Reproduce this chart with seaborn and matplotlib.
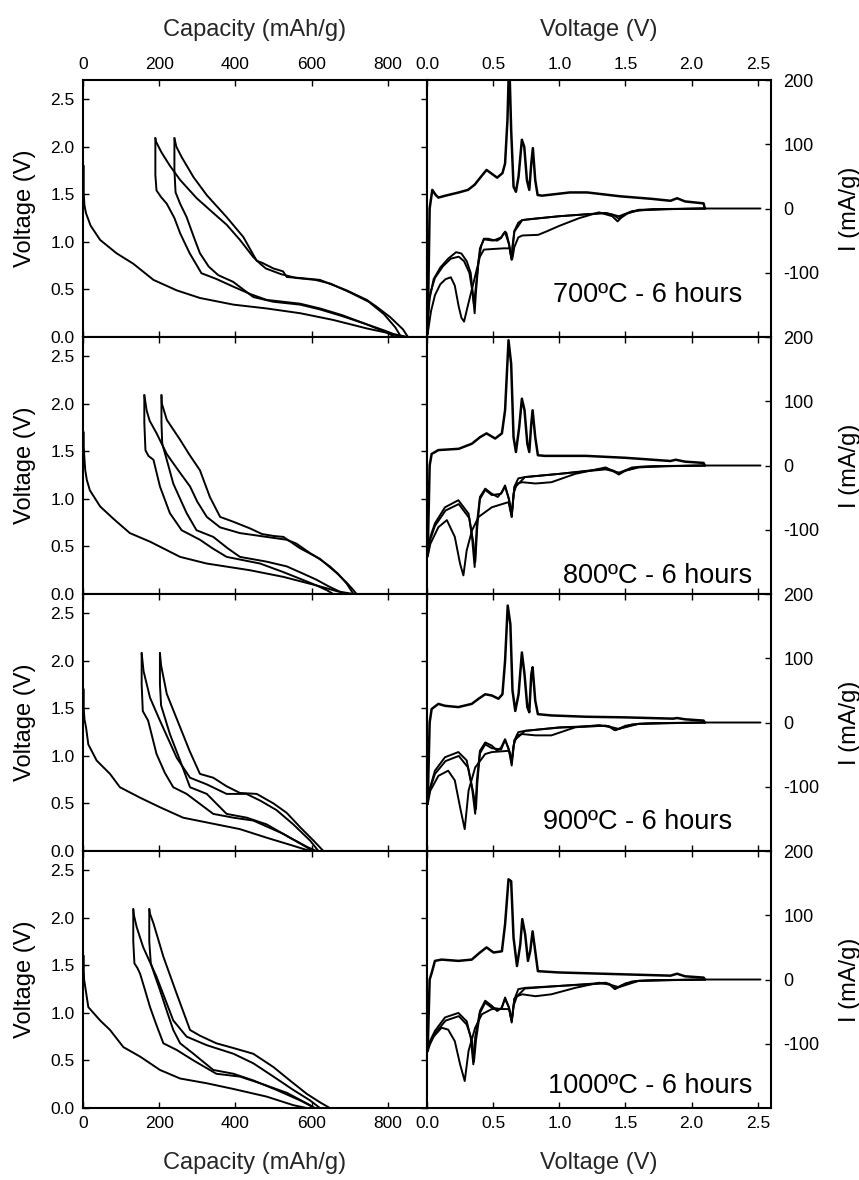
import matplotlib
matplotlib.use("Agg")
import matplotlib.pyplot as plt
from matplotlib.ticker import FormatStrFormatter
import seaborn as sns

# ---------------- galvanostatic curves (capacity mAh/g, voltage V) ----------------
# 700 C
d1_cap_700 = [2, 2, 4, 8, 20, 45, 88, 132, 185, 246, 307, 395, 482, 570, 656, 745, 815, 853]
d1_v_700 = [1.80, 1.50, 1.38, 1.30, 1.17, 1.02, 0.88, 0.77, 0.60, 0.49, 0.41, 0.34, 0.30, 0.25, 0.18, 0.09, 0.03, 0.0]
c1_cap_700 = [853, 840, 806, 770, 745, 692, 622, 570, 535, 525, 500, 470, 456, 421, 377, 325, 290, 259, 245, 240]
c1_v_700 = [0.0, 0.08, 0.21, 0.32, 0.39, 0.49, 0.60, 0.62, 0.63, 0.69, 0.72, 0.78, 0.80, 1.05, 1.26, 1.49, 1.68, 1.89, 2.00, 2.09]
d2_cap_700 = [240, 240, 243, 255, 272, 290, 307, 330, 355, 394, 447, 500, 570, 622, 680, 740, 790, 835]
d2_v_700 = [2.09, 1.75, 1.52, 1.40, 1.26, 1.06, 0.88, 0.74, 0.65, 0.58, 0.42, 0.37, 0.34, 0.29, 0.22, 0.14, 0.07, 0.0]
c2_cap_700 = [835, 820, 790, 750, 700, 650, 610, 560, 520, 480, 465, 447, 412, 377, 340, 298, 255, 228, 206, 192, 190]
c2_v_700 = [0.0, 0.10, 0.24, 0.37, 0.47, 0.56, 0.60, 0.62, 0.66, 0.72, 0.77, 0.84, 1.02, 1.18, 1.31, 1.46, 1.65, 1.80, 1.94, 2.05, 2.09]
d3_cap_700 = [190, 190, 193, 205, 220, 240, 255, 280, 311, 350, 394, 440, 482, 570, 622, 680, 740, 790, 820]
d3_v_700 = [2.09, 1.70, 1.54, 1.47, 1.40, 1.25, 1.09, 0.88, 0.67, 0.61, 0.53, 0.45, 0.39, 0.35, 0.30, 0.23, 0.14, 0.06, 0.0]

# 800 C
d1_cap_800 = [2, 2, 4, 6, 10, 18, 45, 80, 123, 176, 255, 325, 438, 526, 613, 666, 710]
d1_v_800 = [1.70, 1.55, 1.41, 1.30, 1.20, 1.09, 0.92, 0.79, 0.64, 0.55, 0.39, 0.32, 0.25, 0.18, 0.09, 0.03, 0.0]
c1_cap_800 = [718, 710, 692, 666, 622, 570, 526, 500, 470, 438, 394, 360, 333, 307, 280, 255, 220, 207, 206]
c1_v_800 = [0.0, 0.04, 0.12, 0.22, 0.37, 0.48, 0.60, 0.61, 0.63, 0.69, 0.76, 0.81, 1.02, 1.30, 1.46, 1.62, 1.83, 2.00, 2.09]
d2_cap_800 = [206, 206, 208, 222, 237, 255, 272, 298, 342, 380, 412, 482, 535, 580, 613, 645, 666, 684]
d2_v_800 = [2.09, 1.80, 1.58, 1.38, 1.16, 1.00, 0.85, 0.67, 0.60, 0.48, 0.39, 0.34, 0.29, 0.21, 0.15, 0.08, 0.04, 0.0]
c2_cap_800 = [710, 692, 670, 648, 620, 596, 560, 535, 482, 412, 360, 325, 300, 281, 250, 220, 193, 175, 167, 161]
c2_v_800 = [0.0, 0.11, 0.21, 0.29, 0.37, 0.43, 0.53, 0.57, 0.60, 0.64, 0.70, 0.81, 0.97, 1.13, 1.30, 1.47, 1.69, 1.82, 1.93, 2.09]
d3_cap_800 = [161, 161, 164, 172, 185, 202, 228, 259, 307, 340, 377, 465, 526, 570, 613, 640, 657]
d3_v_800 = [2.09, 1.80, 1.51, 1.45, 1.41, 1.13, 0.85, 0.67, 0.57, 0.48, 0.39, 0.32, 0.23, 0.16, 0.09, 0.04, 0.0]

# 900 C
d1_cap_900 = [2, 2, 4, 8, 14, 36, 71, 97, 150, 202, 263, 325, 412, 482, 552, 596]
d1_v_900 = [1.70, 1.50, 1.38, 1.30, 1.12, 0.95, 0.81, 0.67, 0.56, 0.46, 0.35, 0.30, 0.23, 0.14, 0.055, 0.0]
c1_cap_900 = [631, 605, 570, 535, 500, 456, 412, 377, 342, 307, 280, 255, 220, 205, 202]
c1_v_900 = [0.0, 0.11, 0.25, 0.40, 0.50, 0.60, 0.61, 0.68, 0.77, 0.81, 1.05, 1.30, 1.65, 1.95, 2.08]
d2_cap_900 = [202, 202, 205, 215, 228, 255, 281, 325, 377, 430, 482, 543, 590, 613]
d2_v_900 = [2.08, 1.75, 1.53, 1.40, 1.23, 0.95, 0.67, 0.60, 0.39, 0.35, 0.28, 0.14, 0.04, 0.0]
c2_cap_900 = [618, 596, 552, 508, 465, 429, 377, 325, 281, 246, 202, 176, 159, 154]
c2_v_900 = [0.0, 0.11, 0.28, 0.43, 0.53, 0.60, 0.60, 0.70, 0.77, 0.98, 1.37, 1.61, 1.89, 2.08]
d3_cap_900 = [154, 154, 157, 171, 193, 215, 237, 272, 342, 395, 447, 526, 587, 600]
d3_v_900 = [2.08, 1.75, 1.47, 1.37, 1.02, 0.82, 0.67, 0.60, 0.39, 0.35, 0.32, 0.18, 0.04, 0.0]

# 1000 C
d1_cap_1000 = [2, 2, 3, 6, 14, 45, 71, 106, 150, 202, 255, 325, 395, 482, 552, 587]
d1_v_1000 = [1.60, 1.45, 1.35, 1.27, 1.06, 0.92, 0.82, 0.64, 0.54, 0.40, 0.31, 0.26, 0.20, 0.12, 0.03, 0.0]
c1_cap_1000 = [648, 622, 587, 543, 500, 447, 395, 350, 307, 281, 246, 211, 185, 176, 174]
c1_v_1000 = [0.0, 0.06, 0.15, 0.29, 0.43, 0.57, 0.63, 0.68, 0.76, 0.82, 1.20, 1.59, 1.94, 2.04, 2.09]
d2_cap_1000 = [174, 174, 178, 188, 202, 220, 237, 255, 290, 342, 395, 447, 508, 570, 609]
d2_v_1000 = [2.09, 1.75, 1.52, 1.40, 1.24, 1.02, 0.82, 0.68, 0.57, 0.40, 0.36, 0.29, 0.19, 0.08, 0.0]
c2_cap_1000 = [622, 596, 552, 500, 447, 395, 325, 272, 237, 193, 158, 141, 134, 132]
c2_v_1000 = [0.0, 0.08, 0.19, 0.33, 0.47, 0.57, 0.66, 0.75, 0.92, 1.38, 1.69, 1.90, 2.02, 2.09]
d3_cap_1000 = [132, 132, 135, 143, 150, 162, 176, 193, 211, 246, 290, 350, 412, 465, 535, 596, 604]
d3_v_1000 = [2.09, 1.75, 1.52, 1.47, 1.41, 1.25, 1.06, 0.87, 0.68, 0.61, 0.50, 0.36, 0.33, 0.26, 0.16, 0.03, 0.0]

# ---------------- cyclic voltammetry (voltage V, current mA/g) ----------------
# 700 C
an_v_700 = [0.005, 0.02, 0.04, 0.066, 0.086, 0.14, 0.24, 0.31, 0.36, 0.41, 0.45, 0.49, 0.53, 0.57, 0.59, 0.608, 0.621,
            0.636, 0.654, 0.672, 0.692, 0.717, 0.735, 0.755, 0.773, 0.788, 0.80, 0.818, 0.836, 0.87, 1.08, 1.21, 1.46,
            1.70, 1.84, 1.89, 1.95, 2.09, 2.10]
an_i_700 = [-195, 0, 29, 21, 17, 20, 25, 29, 37, 50, 60, 54, 48, 55, 70, 138, 235,
            122, 34, 26, 50, 107, 96, 44, 29, 70, 94, 44, 21, 20, 25, 25, 19,
            15, 12, 16, 11, 8, 0]
k1_v_700 = [2.52, 2.10, 1.80, 1.60, 1.52, 1.47, 1.44, 1.40, 1.30, 1.15, 1.00, 0.90, 0.84, 0.72, 0.69, 0.66, 0.645, 0.635,
            0.625, 0.58, 0.50, 0.43, 0.40, 0.37, 0.34, 0.31, 0.28, 0.26, 0.24, 0.21, 0.18, 0.14, 0.10, 0.06, 0.03, 0.005]
k1_i_700 = [0, 0, -1, -3, -7, -14, -20, -12, -6, -15, -27, -36, -41, -42, -45, -60, -78, -72,
            -62, -62, -63, -64, -75, -100, -125, -150, -176, -170, -153, -120, -107, -110, -118, -135, -160, -195]
k2_v_700 = [2.10, 1.70, 1.55, 1.48, 1.45, 1.41, 1.35, 1.20, 1.00, 0.80, 0.72, 0.69, 0.66, 0.645, 0.64, 0.63, 0.62, 0.60,
            0.59, 0.575, 0.56, 0.53, 0.50, 0.46, 0.43, 0.41, 0.39, 0.37, 0.36, 0.345, 0.33, 0.30, 0.26, 0.22, 0.16, 0.10,
            0.05, 0.02, 0.005]
k2_i_700 = [0, -1, -4, -10, -16, -10, -7, -9, -12, -16, -18, -22, -35, -60, -80, -70, -55, -38,
            -36, -40, -46, -50, -49, -47, -47, -58, -80, -130, -163, -130, -100, -82, -70, -68, -78, -92,
            -110, -140, -175]
k3_v_700 = [2.10, 1.60, 1.45, 1.35, 1.00, 0.72, 0.66, 0.64, 0.62, 0.59, 0.56, 0.50, 0.43, 0.40, 0.37, 0.355, 0.34, 0.32,
            0.28, 0.24, 0.18, 0.12, 0.06, 0.02, 0.005]
k3_i_700 = [0, -2, -12, -7, -12, -18, -36, -78, -56, -37, -45, -50, -48, -62, -120, -150, -125, -100,
            -82, -75, -78, -90, -108, -135, -170]

# 800 C
an_v_800 = [0.005, 0.02, 0.035, 0.086, 0.24, 0.34, 0.40, 0.45, 0.515, 0.566, 0.59, 0.616, 0.636, 0.654, 0.672, 0.697,
            0.717, 0.737, 0.758, 0.773, 0.788, 0.798, 0.818, 0.838, 0.89, 1.20, 1.50, 1.84, 1.88, 1.95, 2.09, 2.10]
an_i_800 = [-140, 0, 18, 24, 26, 34, 44, 50, 42, 50, 86, 195, 158, 44, 21, 60,
            104, 86, 34, 21, 65, 86, 44, 16, 15, 15, 12, 7, 9, 6, 4, 0]
k1_v_800 = [2.52, 2.10, 1.80, 1.60, 1.50, 1.45, 1.40, 1.35, 1.12, 0.94, 0.82, 0.72, 0.68, 0.654, 0.64, 0.616, 0.49,
            0.39, 0.34, 0.30, 0.275, 0.25, 0.21, 0.15, 0.086, 0.025, 0.005]
k1_i_800 = [0, 0, -1, -3, -8, -14, -8, -3, -13, -26, -28, -26, -28, -44, -80, -57, -65,
            -80, -101, -132, -171, -153, -111, -85, -96, -122, -142]
k2_v_800 = [2.10, 1.70, 1.55, 1.48, 1.45, 1.41, 1.35, 1.00, 0.74, 0.69, 0.66, 0.64, 0.62, 0.59, 0.566, 0.535, 0.49,
            0.44, 0.40, 0.377, 0.36, 0.34, 0.314, 0.237, 0.136, 0.06, 0.025, 0.005]
k2_i_800 = [0, -1, -3, -9, -13, -8, -5, -13, -18, -20, -33, -80, -54, -31, -41, -49, -44,
            -36, -49, -90, -158, -111, -75, -54, -65, -90, -111, -137]
k3_v_800 = [2.10, 1.60, 1.45, 1.35, 1.00, 0.74, 0.66, 0.64, 0.62, 0.59, 0.56, 0.49, 0.44, 0.40, 0.38, 0.365, 0.35,
            0.32, 0.24, 0.14, 0.06, 0.02, 0.005]
k3_i_800 = [0, -2, -11, -6, -13, -18, -35, -76, -52, -33, -44, -46, -38, -52, -95, -150, -120,
            -82, -60, -70, -94, -118, -140]

# 900 C
an_v_900 = [0.005, 0.02, 0.035, 0.086, 0.136, 0.237, 0.338, 0.39, 0.44, 0.49, 0.54, 0.57, 0.59, 0.61, 0.63, 0.646,
            0.667, 0.692, 0.717, 0.737, 0.758, 0.773, 0.788, 0.798, 0.818, 0.838, 0.94, 1.20, 1.50, 1.86, 1.89, 1.95,
            2.09, 2.10]
an_i_900 = [-127, 0, 21, 29, 26, 24, 29, 37, 44, 42, 37, 44, 96, 182, 153, 50,
            18, 44, 109, 75, 24, 16, 75, 86, 34, 13, 11, 9, 8, 6, 7, 5,
            3, 0]
k1_v_900 = [2.52, 2.10, 1.80, 1.60, 1.50, 1.45, 1.42, 1.38, 1.30, 1.12, 0.94, 0.82, 0.72, 0.68, 0.654, 0.64, 0.62,
            0.49, 0.44, 0.364, 0.314, 0.285, 0.25, 0.21, 0.16, 0.086, 0.025, 0.005]
k1_i_900 = [0, 0, -1, -2, -5, -10, -12, -7, -4, -7.5, -20, -20, -18, -20, -36, -59, -44,
            -46, -49, -70, -106, -166, -132, -90, -75, -83, -106, -127]
k2_v_900 = [2.10, 1.70, 1.55, 1.47, 1.42, 1.38, 1.35, 1.00, 0.74, 0.69, 0.66, 0.64, 0.62, 0.59, 0.56, 0.53, 0.49,
            0.44, 0.40, 0.377, 0.364, 0.34, 0.30, 0.237, 0.136, 0.06, 0.01, 0.0]
k2_i_900 = [0, -1, -3, -8, -12, -6, -5, -7.5, -13, -15, -28, -67, -44, -26, -39, -44, -36,
            -31, -44, -90, -142, -101, -59, -46, -54, -75, -111, -127]
k3_v_900 = [2.10, 1.60, 1.45, 1.35, 1.00, 0.74, 0.66, 0.64, 0.62, 0.59, 0.56, 0.49, 0.44, 0.40, 0.38, 0.37, 0.35,
            0.31, 0.24, 0.14, 0.06, 0.02, 0.005]
k3_i_900 = [0, -2, -10, -5, -8, -13, -28, -62, -42, -27, -42, -40, -34, -48, -95, -135, -110,
            -70, -52, -60, -80, -105, -120]

# 1000 C
an_v_1000 = [0.005, 0.02, 0.035, 0.06, 0.11, 0.237, 0.338, 0.40, 0.45, 0.503, 0.566, 0.59, 0.616, 0.636, 0.654, 0.68,
             0.705, 0.72, 0.742, 0.763, 0.78, 0.798, 0.818, 0.838, 0.995, 1.50, 1.84, 1.89, 1.95, 2.09, 2.10]
an_i_1000 = [-111, 0, 10, 29, 31, 29, 31, 42, 50, 42, 44, 86, 156, 153, 65, 21,
             55, 94, 70, 29, 44, 75, 44, 13, 11, 8, 6, 9, 5, 3, 0]
k1_v_1000 = [2.52, 2.10, 1.80, 1.60, 1.50, 1.45, 1.42, 1.38, 1.30, 1.12, 0.94, 0.82, 0.72, 0.68, 0.654, 0.64, 0.62,
             0.49, 0.415, 0.364, 0.314, 0.285, 0.25, 0.21, 0.16, 0.11, 0.045, 0.005]
k1_i_1000 = [0, 0, -1, -2, -6, -12, -15, -8, -5, -13, -23, -26, -23, -26, -41, -65, -46,
             -46, -54, -75, -111, -158, -132, -96, -78, -75, -90, -106]
k2_v_1000 = [2.10, 1.70, 1.55, 1.47, 1.42, 1.38, 1.35, 1.00, 0.74, 0.69, 0.66, 0.64, 0.62, 0.59, 0.566, 0.53, 0.49,
             0.44, 0.40, 0.364, 0.35, 0.33, 0.30, 0.237, 0.136, 0.06, 0.01, 0.005]
k2_i_1000 = [0, -1, -3, -9, -14, -7, -5, -10, -13, -15, -31, -67, -44, -28, -44, -49, -41,
             -33, -49, -90, -132, -90, -65, -52, -59, -80, -101, -111]
k3_v_1000 = [2.10, 1.60, 1.45, 1.35, 1.00, 0.74, 0.66, 0.64, 0.62, 0.59, 0.56, 0.49, 0.44, 0.40, 0.37, 0.355, 0.34,
             0.30, 0.24, 0.14, 0.06, 0.02, 0.005]
k3_i_1000 = [0, -2, -12, -6, -10, -14, -30, -64, -44, -30, -46, -44, -36, -52, -95, -128, -95,
             -70, -57, -64, -84, -102, -112]

temps = ["700", "800", "900", "1000"]
panel_titles = ["700ºC - 6 hours", "800ºC - 6 hours", "900ºC - 6 hours", "1000ºC - 6 hours"]
title_pos = [(0.916, 0.136), (0.945, 0.043), (0.887, 0.086), (0.945, 0.058)]

cap_ticks = [0, 200, 400, 600, 800]
volt_ticks = [0.0, 0.5, 1.0, 1.5, 2.0, 2.5]
cur_ticks = [-100, 0, 100, 200]

sns.set_theme(style="ticks")
plt.rcParams['font.family'] = ['Liberation Sans', 'DejaVu Sans']
plt.rcParams['axes.unicode_minus'] = False

fig, axs = plt.subplots(4, 2, figsize=(8.59, 11.8), dpi=100)
fig.subplots_adjust(left=0.0966, right=0.8976, top=0.9322, bottom=0.0610, hspace=0, wspace=0)

g = globals()
lw = 1.4
for row, t in enumerate(temps):
    axl = axs[row, 0]
    axr = axs[row, 1]

    # galvanostatic
    for seg in ["d1", "c1", "d2", "c2", "d3"]:
        sns.lineplot(x=g[f"{seg}_cap_{t}"], y=g[f"{seg}_v_{t}"], ax=axl, color="black",
                     lw=lw, sort=False, estimator=None, legend=False)
    axl.set_xlim(0, 903)
    axl.set_ylim(0, 2.7)
    axl.set_xticks(cap_ticks)
    axl.set_yticks(volt_ticks)
    axl.yaxis.set_major_formatter(FormatStrFormatter('%.1f'))
    axl.tick_params(direction="in", top=True, bottom=True, left=True, right=True,
                    labeltop=(row == 0), labelbottom=(row == 3), labelsize=12.5,
                    length=4, width=1, pad=6, colors="black")
    axl.set_ylabel("Voltage (V)", fontsize=17, labelpad=10, color="black")

    # cyclic voltammetry
    for seg, w in [("k1", lw), ("k2", lw), ("k3", lw), ("an", 1.8)]:
        sns.lineplot(x=g[f"{seg}_v_{t}"], y=g[f"{seg}_i_{t}"], ax=axr, color="black",
                     lw=w, sort=False, estimator=None, legend=False)
    axr.set_xlim(0, 2.6)
    axr.set_ylim(-200, 200)
    axr.set_xticks(volt_ticks)
    axr.set_yticks(cur_ticks)
    axr.xaxis.set_major_formatter(FormatStrFormatter('%.1f'))
    axr.yaxis.tick_right()
    axr.yaxis.set_label_position("right")
    axr.tick_params(direction="in", top=True, bottom=True, left=False, right=True,
                    labelleft=False, labelright=True,
                    labeltop=(row == 0), labelbottom=(row == 3), labelsize=12.5,
                    length=4, width=1, pad=6, colors="black")
    axr.tick_params(axis="y", labelsize=13, pad=9)
    axr.set_ylabel("I (mA/g)", fontsize=17, labelpad=14, color="black")
    axr.text(title_pos[row][0], title_pos[row][1], panel_titles[row], transform=axr.transAxes,
             ha="right", va="baseline", fontsize=19.5, color="black")

    for ax in (axl, axr):
        ax.set_xlabel("")
        for sp in ax.spines.values():
            sp.set_visible(True)
            sp.set_linewidth(1.5)
            sp.set_color("black")

axs[0, 0].xaxis.set_label_position("top")
axs[0, 0].set_xlabel("Capacity (mAh/g)", fontsize=17, labelpad=15)
axs[0, 1].xaxis.set_label_position("top")
axs[0, 1].set_xlabel("Voltage (V)", fontsize=17, labelpad=15)
axs[3, 0].set_xlabel("Capacity (mAh/g)", fontsize=17, labelpad=15)
axs[3, 1].set_xlabel("Voltage (V)", fontsize=17, labelpad=15)

fig.savefig("out.png", dpi=100)
